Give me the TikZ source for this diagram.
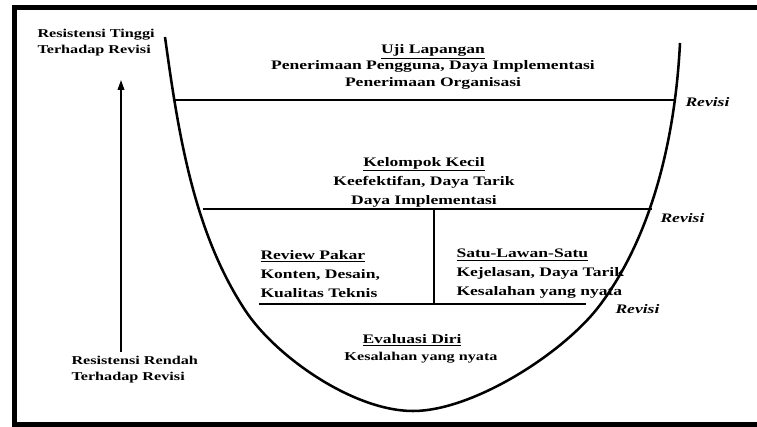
\documentclass[tikz,border=0pt]{standalone}
\usepackage{fontspec}
\setmainfont{Liberation Serif}[FakeStretch=1.35]
\usetikzlibrary{arrows.meta}

\tikzset{every picture/.style={line width=0.75pt}}
\tikzset{
  garis/.style={line width=1.4pt},
  mangkuk/.style={line width=1.9pt, line join=round},
  blok/.style={inner sep=0.75pt, align=center, font=\fontsize{9.75}{14.25}\selectfont\bfseries},
  kiri/.style={inner sep=0.75pt, anchor=west, align=left, font=\fontsize{9.75}{14.25}\selectfont\bfseries},
  sisi/.style={inner sep=0.75pt, anchor=west, align=left, font=\fontsize{9}{12}\selectfont\bfseries},
  rev/.style={inner sep=0.75pt, anchor=west, font=\fontsize{9.75}{12}\selectfont\bfseries\itshape}
}

\begin{document}
\begin{tikzpicture}[x=0.75pt,y=0.75pt,yscale=-1,xscale=1]
\useasboundingbox (0,0) rectangle (757,427);

%Frame
\draw [line width=3.75pt] (14.5,7.5) rectangle (770,424.5);

%Curve Lines
\draw [mangkuk] (165,37) .. controls (178,131) and (193,231) .. (245,310) .. controls (275,356) and (353,411) .. (413,411) .. controls (473,411) and (564,353) .. (600,305) .. controls (654,233) and (675.5,133) .. (680,43) ;

%Straight Lines
\draw [garis] (174,100) -- (676,100) ;
%Straight Lines
\draw [garis] (203,209) -- (652,209) ;
%Straight Lines
\draw [garis] (259,304) -- (586,304) ;
%Straight Lines
\draw [garis] (434,209) -- (434,304) ;

%Arrow
\coordinate (panahAtas) at (121,80);
\coordinate (panahBawah) at (121,352);
\draw [line width=1.2pt, -{Triangle[length=7.5pt,width=5pt]}] (panahBawah) -- (panahAtas) ;

% Text Node
\draw (433,66.5) node (uji) [blok, font=\fontsize{9.75}{12.4}\selectfont\bfseries] {\underline{Uji Lapangan}\\Penerimaan Pengguna, Daya Implementasi\\Penerimaan Organisasi};
% Text Node
\draw (424,182) node (kelompok) [blok] {\underline{Kelompok Kecil}\\Keefektifan, Daya Tarik\\Daya Implementasi};
% Text Node
\draw (259,274) node (pakar) [kiri] {\underline{Review Pakar}\\Konten, Desain,\\Kualitas Teknis};
% Text Node
\draw (455,274) node (satu) [kiri] {\underline{Satu-Lawan-Satu}\\Kejelasan, Daya Tarik\\Kesalahan yang nyata};
% Text Node
\draw (412,340) node (evaluasi) [blok] {\underline{Evaluasi Diri}};
% Text Node
\draw (421,358) node (salah) [blok, font=\fontsize{9}{12}\selectfont\bfseries] {Kesalahan yang nyata};
% Text Node
\draw (684,102) node (revA) [rev] {Revisi};
% Text Node
\draw (659,218) node (revB) [rev] {Revisi};
% Text Node
\draw (614,309) node (revC) [rev] {Revisi};
% Text Node
\draw (36,43) node (tinggi) [sisi] {Resistensi Tinggi\\Terhadap Revisi};
% Text Node
\draw (70,370) node (rendah) [sisi] {Resistensi Rendah\\Terhadap Revisi};

\end{tikzpicture}
\end{document}
